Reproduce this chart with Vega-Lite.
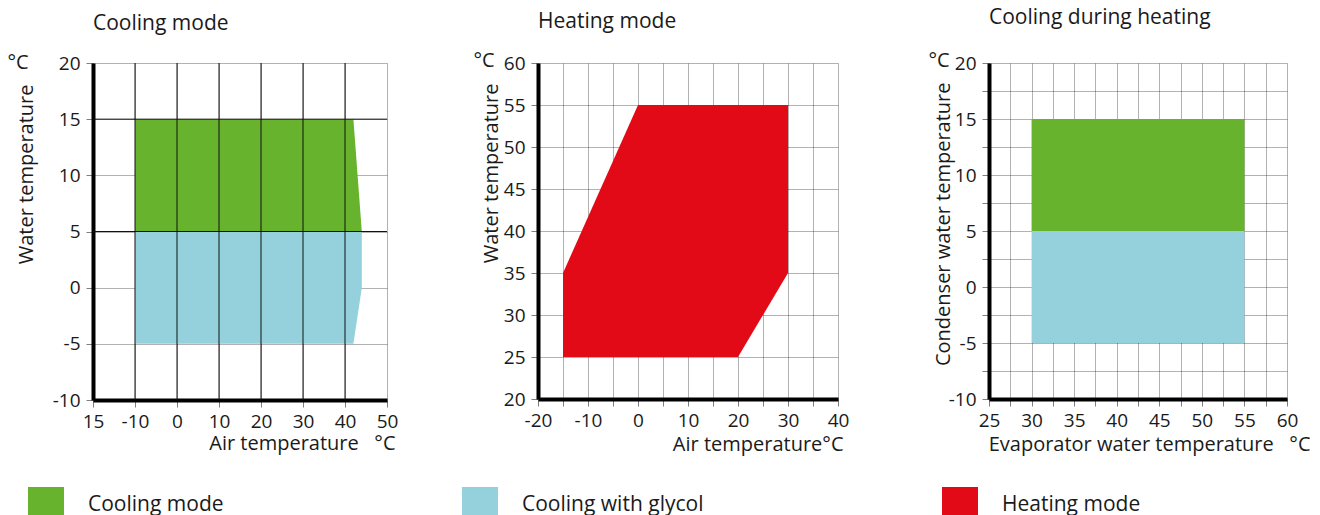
{
  "$schema": "https://vega.github.io/schema/vega-lite/v6.json",
  "autosize": {"type": "pad"},
  "padding": {"left": 7, "top": 7, "right": 0, "bottom": 0},
  "background": "white",
  "datasets": {
    "cooling": [
      {"series": "Cooling mode", "x": -10, "y": 15, "y2": 5},
      {"series": "Cooling mode", "x": 42, "y": 15, "y2": 5},
      {"series": "Cooling mode", "x": 44, "y": 5, "y2": 5},
      {"series": "Cooling with glycol", "x": -10, "y": 5, "y2": -5},
      {"series": "Cooling with glycol", "x": 42, "y": 5, "y2": -5},
      {"series": "Cooling with glycol", "x": 44, "y": 5, "y2": 0}
    ],
    "heating": [
      {"series": "Heating mode", "x": -15, "y": 35, "y2": 25},
      {"series": "Heating mode", "x": 0, "y": 55, "y2": 25},
      {"series": "Heating mode", "x": 20, "y": 55, "y2": 25},
      {"series": "Heating mode", "x": 30, "y": 55, "y2": 35}
    ],
    "during": [
      {"series": "Cooling mode", "x": 30, "y": 15, "y2": 5},
      {"series": "Cooling mode", "x": 55, "y": 15, "y2": 5},
      {"series": "Cooling with glycol", "x": 30, "y": 5, "y2": -5},
      {"series": "Cooling with glycol", "x": 55, "y": 5, "y2": -5}
    ],
    "vlines": [{"x": -10}, {"x": 0}, {"x": 10}, {"x": 20}, {"x": 30}, {"x": 40}],
    "hlines": [{"y": 15}, {"y": 5}]
  },
  "config": {
    "font": "Open Sans",
    "view": {"stroke": null},
    "axis": {
      "labelFont": "Open Sans", "labelFontSize": 19, "labelColor": "#1a1a1a",
      "titleFont": "Open Sans", "titleFontSize": 20, "titleFontWeight": "normal", "titleColor": "#1a1a1a",
      "domainColor": "#000", "domainWidth": 4,
      "gridColor": "#000", "gridOpacity": 0.3,
      "tickColor": "#000", "tickOpacity": 0.5, "tickSize": 7,
      "labelFlush": false, "labelOverlap": false,
      "zindex": 1
    },
    "axisX": {"labelPadding": 5},
    "axisY": {"labelPadding": 6},
    "title": {"font": "Open Sans", "fontSize": 21, "fontWeight": "normal", "color": "#1a1a1a", "anchor": "start", "frame": "group", "baseline": "alphabetic"},
    "legend": {
      "orient": "none", "legendX": -65, "legendY": 424, "direction": "horizontal",
      "symbolType": "square", "symbolSize": 1296, "symbolStrokeWidth": 0, "symbolOpacity": 1,
      "labelFont": "Open Sans", "labelFontSize": 21, "labelColor": "#1a1a1a", "labelOffset": 24,
      "columnPadding": 238, "padding": 0, "labelLimit": 400
    }
  },
  "spacing": 151,
  "bounds": "flush",
  "resolve": {"scale": {"color": "shared"}},
  "hconcat": [
    {
      "width": 294, "height": 337,
      "title": {"text": "Cooling mode", "offset": 18},
      "layer": [
        {
          "data": {"name": "cooling"},
          "mark": {"type": "area", "opacity": 1},
          "encoding": {
            "x": {"field": "x", "type": "quantitative",
              "scale": {"domain": [-20, 50], "nice": false, "zero": false},
              "axis": {"values": [-20, -15, -10, -5, 0, 5, 10, 15, 20, 25, 30, 35, 40, 45, 50],
                "labelExpr": "datum.value == -20 ? '15' : (datum.value % 10 == 0 ? '' + datum.value : '')",
                "title": "Air temperature\u00a0\u00a0\u00a0°C", "titleAnchor": "end", "titleAlign": "right",
                "titleX": 302, "titleY": 49, "titleBaseline": "alphabetic"}},
            "y": {"field": "y", "type": "quantitative", "stack": null,
              "scale": {"domain": [-10, 20], "nice": false, "zero": false},
              "axis": {"values": [-10, -5, 0, 5, 10, 15, 20], "labelExpr": "'' + datum.value",
                "title": "Water temperature", "titleAnchor": "end", "titleAlign": "right", "titleAngle": -90,
                "titleX": -61, "titleY": 21, "titleBaseline": "alphabetic"}},
            "y2": {"field": "y2"},
            "color": {"field": "series", "type": "nominal", "title": null,
              "scale": {"domain": ["Cooling mode", "Cooling with glycol", "Heating mode"], "range": ["#67b32e", "#94d1dc", "#e30a18"]}}
          }
        },
        {
          "data": {"name": "vlines"},
          "mark": {"type": "rule", "color": "#111", "strokeWidth": 1},
          "encoding": {"x": {"field": "x", "type": "quantitative", "title": "Air temperature\u00a0\u00a0\u00a0°C"}}
        },
        {
          "data": {"name": "hlines"},
          "mark": {"type": "rule", "color": "#111", "strokeWidth": 1},
          "encoding": {"y": {"field": "y", "type": "quantitative",
            "axis": {"orient": "left", "title": "°C", "titleAngle": 0, "titleX": -86, "titleY": 5, "titleAlign": "left", "titleBaseline": "alphabetic",
              "labels": false, "ticks": false, "domain": false, "grid": false}}}
        }
      ],
      "resolve": {"axis": {"y": "independent"}}
    },
    {
      "width": 300, "height": 336,
      "title": {"text": "Heating mode", "offset": 18},
      "layer": [
        {
          "data": {"name": "heating"},
          "mark": {"type": "area", "opacity": 1},
          "encoding": {
            "x": {"field": "x", "type": "quantitative",
              "scale": {"domain": [-20, 40], "nice": false, "zero": false},
              "axis": {"values": [-20, -15, -10, -5, 0, 5, 10, 15, 20, 25, 30, 35, 40],
                "labelExpr": "datum.value % 10 == 0 ? '' + datum.value : ''",
                "title": "Air temperature°C", "titleAnchor": "end", "titleAlign": "right",
                "titleX": 305, "titleY": 51, "titleBaseline": "alphabetic"}},
            "y": {"field": "y", "type": "quantitative", "stack": null,
              "scale": {"domain": [20, 60], "nice": false, "zero": false},
              "axis": {"values": [20, 25, 30, 35, 40, 45, 50, 55, 60], "labelExpr": "'' + datum.value",
                "title": "Water temperature", "titleAnchor": "end", "titleAlign": "right", "titleAngle": -90,
                "titleX": -41, "titleY": 20, "titleBaseline": "alphabetic"}},
            "y2": {"field": "y2"},
            "color": {"field": "series", "type": "nominal", "title": null,
              "scale": {"domain": ["Cooling mode", "Cooling with glycol", "Heating mode"], "range": ["#67b32e", "#94d1dc", "#e30a18"]}}
          }
        },
        {
          "mark": {"type": "rule", "opacity": 0},
          "encoding": {"y": {"datum": 60, "type": "quantitative",
            "axis": {"orient": "left", "title": "°C", "titleAngle": 0, "titleX": -65, "titleY": 3, "titleAlign": "left", "titleBaseline": "alphabetic",
              "labels": false, "ticks": false, "domain": false, "grid": false}}}
        }
      ],
      "resolve": {"axis": {"y": "independent"}}
    },
    {
      "width": 298, "height": 336,
      "title": {"text": "Cooling during heating", "offset": 22},
      "layer": [
        {
          "data": {"name": "during"},
          "mark": {"type": "area", "opacity": 1},
          "encoding": {
            "x": {"field": "x", "type": "quantitative",
              "scale": {"domain": [25, 60], "nice": false, "zero": false},
              "axis": {"values": [25, 27.5, 30, 32.5, 35, 37.5, 40, 42.5, 45, 47.5, 50, 52.5, 55, 57.5, 60],
                "labelExpr": "datum.value % 5 == 0 ? '' + datum.value : ''",
                "title": "Evaporator water temperature\u00a0\u00a0\u00a0°C", "titleAnchor": "end", "titleAlign": "right",
                "titleX": 321, "titleY": 51, "titleBaseline": "alphabetic"}},
            "y": {"field": "y", "type": "quantitative", "stack": null,
              "scale": {"domain": [-10, 20], "nice": false, "zero": false},
              "axis": {"values": [-10, -7.5, -5, -2.5, 0, 2.5, 5, 7.5, 10, 12.5, 15, 17.5, 20],
                "labelExpr": "datum.value % 5 == 0 ? '' + datum.value : ''",
                "title": "Condenser water temperature", "titleAnchor": "end", "titleAlign": "right", "titleAngle": -90,
                "titleX": -40, "titleY": 19, "titleBaseline": "alphabetic"}},
            "y2": {"field": "y2"},
            "color": {"field": "series", "type": "nominal", "title": null,
              "scale": {"domain": ["Cooling mode", "Cooling with glycol", "Heating mode"], "range": ["#67b32e", "#94d1dc", "#e30a18"]}}
          }
        },
        {
          "mark": {"type": "rule", "opacity": 0},
          "encoding": {"y": {"datum": 20, "type": "quantitative",
            "axis": {"orient": "left", "title": "°C", "titleAngle": 0, "titleX": -61, "titleY": 3, "titleAlign": "left", "titleBaseline": "alphabetic",
              "labels": false, "ticks": false, "domain": false, "grid": false}}}
        }
      ],
      "resolve": {"axis": {"y": "independent"}}
    }
  ]
}
